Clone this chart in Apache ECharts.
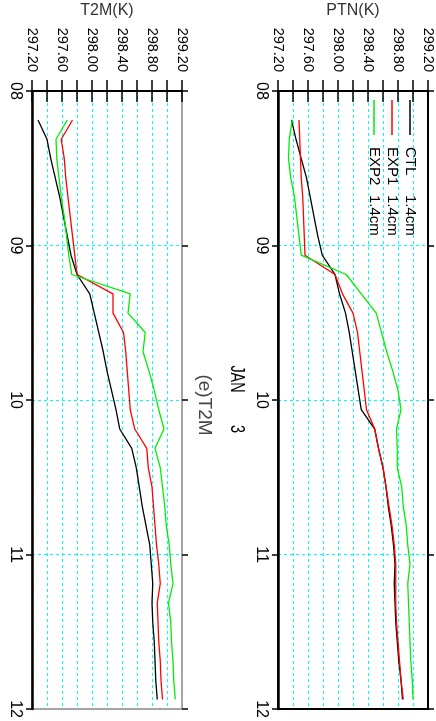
<!DOCTYPE html>
<html><head><meta charset="utf-8">
<script src="https://cdn.jsdelivr.net/npm/echarts@6/dist/echarts.min.js"></script>
<style>html,body{margin:0;padding:0;background:#fff;}#c{width:436px;height:721px;}</style>
</head><body><div id="c"></div>
<script>
// ---- data ----
const hours = [4.5, 7.5, 10.5, 13.5, 16.5, 19.5, 22.5, 25.5, 28.5, 31.5, 34.5, 37.5, 40.5, 43.5, 46.5, 49.5, 52.5, 55.5, 58.5, 61.5, 64.5, 67.5, 70.5, 73.5, 76.5, 79.5, 82.5, 85.5, 88.5, 91.5, 94.5];
const timeLabels = ['08', '09', '10', '11', '12'];
const valueTicks = ['297.20', '297.60', '298.00', '298.40', '298.80', '299.20'];
const seriesNames = ['CTL', 'EXP1', 'EXP2'];
const legendSizes = ['1.4cm', '1.4cm', '1.4cm'];
const panelTitles = ['T2M(K)', 'PTN(K)'];
const t2mCTL = [297.28, 297.40, 297.45, 297.51, 297.57, 297.62, 297.67, 297.72, 297.80, 297.97, 298.03, 298.09, 298.15, 298.20, 298.26, 298.32, 298.37, 298.53, 298.59, 298.63, 298.67, 298.72, 298.77, 298.79, 298.81, 298.80, 298.81, 298.83, 298.84, 298.85, 298.87];
const t2mEXP1 = [297.74, 297.59, 297.63, 297.65, 297.68, 297.71, 297.74, 297.77, 297.80, 298.28, 298.28, 298.42, 298.45, 298.47, 298.49, 298.51, 298.57, 298.73, 298.75, 298.80, 298.82, 298.84, 298.86, 298.89, 298.91, 298.87, 298.88, 298.89, 298.91, 298.92, 298.94];
const t2mEXP2 = [297.67, 297.52, 297.53, 297.56, 297.59, 297.63, 297.66, 297.69, 297.73, 298.51, 298.48, 298.71, 298.68, 298.76, 298.83, 298.89, 298.96, 298.84, 298.91, 298.94, 298.97, 298.99, 299.03, 299.05, 299.08, 299.02, 299.05, 299.06, 299.08, 299.09, 299.11];
const ptnCTL = [297.38, 297.44, 297.51, 297.58, 297.63, 297.68, 297.73, 297.79, 297.96, 298.02, 298.10, 298.15, 298.19, 298.23, 298.27, 298.31, 298.49, 298.54, 298.60, 298.64, 298.67, 298.71, 298.74, 298.76, 298.75, 298.76, 298.77, 298.79, 298.81, 298.84, 298.86];
const ptnEXP1 = [297.48, 297.49, 297.50, 297.51, 297.53, 297.54, 297.55, 297.56, 297.96, 298.06, 298.20, 298.26, 298.29, 298.32, 298.35, 298.38, 298.49, 298.54, 298.60, 298.64, 298.68, 298.72, 298.75, 298.77, 298.77, 298.77, 298.78, 298.80, 298.82, 298.84, 298.87];
const ptnEXP2 = [297.39, 297.35, 297.34, 297.37, 297.42, 297.45, 297.48, 297.51, 298.11, 298.31, 298.51, 298.58, 298.65, 298.73, 298.80, 298.84, 298.78, 298.79, 298.79, 298.85, 298.87, 298.91, 298.93, 298.96, 298.93, 298.94, 298.95, 298.96, 298.97, 298.99, 299.00];

// ---- styles ----
const colors = ['#000000', '#ff0000', '#00ee00'];
const FONT = 'Liberation Sans, Arial, sans-serif';
const VMIN = 297.2, VMAX = 299.2;
const grids = [
  {left: 32, top: 91, width: 150, height: 621, show: true, borderColor: '#888', borderWidth: 1.5, backgroundColor: 'transparent'},
  {left: 278, top: 91, width: 150, height: 621, show: true, borderColor: '#000', borderWidth: 2, backgroundColor: 'transparent'}
];
const dash = {color: '#00ffff', width: 1, type: [3, 3]};

const xAxes = [], yAxes = [];
[0, 1].forEach(g => {
  xAxes.push({
    type: 'value', gridIndex: g, position: 'top', min: VMIN, max: VMAX, interval: 0.2,
    axisLine: {show: true, lineStyle: {color: '#000', width: 2}},
    axisTick: {show: true, inside: false, length: 11, lineStyle: {color: '#000', width: 1.5}},
    axisLabel: {
      show: true, rotate: -90, margin: 19, color: '#000', fontSize: 14.5, fontFamily: FONT,
      formatter: v => {
        const i = Math.round((v - VMIN) / 0.2);
        return i % 2 === 0 ? valueTicks[i / 2] : '';
      }
    },
    splitLine: {show: true, showMinLine: false, showMaxLine: false, lineStyle: dash}
  });
  xAxes.push({
    type: 'value', gridIndex: g, position: 'bottom', min: VMIN, max: VMAX, interval: 0.2,
    axisLine: {show: true, lineStyle: {color: '#000', width: 2}},
    axisTick: {show: true, inside: false, length: 11, lineStyle: {color: '#000', width: 1.5}},
    axisLabel: {show: false}, splitLine: {show: false}
  });
  yAxes.push({
    type: 'value', gridIndex: g, position: 'left', inverse: true, min: 0, max: 96, interval: 24,
    axisLine: {show: true, lineStyle: {color: '#000', width: 2.5}},
    axisTick: {show: true, inside: false, length: 6, lineStyle: {color: '#000', width: 1.5}},
    axisLabel: {
      show: true, rotate: -90, margin: 9, color: '#000', fontSize: 16, fontFamily: FONT,
      formatter: v => timeLabels[Math.round(v / 24)]
    },
    splitLine: {show: true, showMinLine: false, showMaxLine: false, lineStyle: dash}
  });
  yAxes.push({
    type: 'value', gridIndex: g, position: 'right', inverse: true, min: 0, max: 96, interval: 24,
    axisLine: {show: false},
    axisTick: {show: true, inside: false, length: 6, lineStyle: {color: '#000', width: 1.5}},
    axisLabel: {show: false}, splitLine: {show: false}
  });
});

const panels = [[t2mCTL, t2mEXP1, t2mEXP2], [ptnCTL, ptnEXP1, ptnEXP2]];
const series = [];
panels.forEach((arrs, g) => {
  arrs.forEach((arr, s) => {
    series.push({
      type: 'line', name: seriesNames[s], xAxisIndex: g * 2, yAxisIndex: g * 2,
      data: arr.map((v, i) => [v, hours[i]]),
      showSymbol: false, symbol: 'none', animation: false, z: 3,
      lineStyle: {color: colors[s], width: 1.3}
    });
  });
});

const graphic = [];
const titleX = [107, 353];
panelTitles.forEach((t, i) => graphic.push({
  type: 'text', x: titleX[i], y: 11,
  style: {text: t, fill: '#333', font: '16px ' + FONT, textAlign: 'center', textVerticalAlign: 'middle'}
}));
graphic.push({type: 'text', x: 237, y: 379, rotation: -Math.PI / 2, scaleX: 0.72,
  style: {text: 'JAN', fill: '#000', font: '20px ' + FONT, textAlign: 'center', textVerticalAlign: 'middle'}});
graphic.push({type: 'text', x: 237, y: 429, rotation: -Math.PI / 2, scaleX: 0.72,
  style: {text: '3', fill: '#000', font: '20px ' + FONT, textAlign: 'center', textVerticalAlign: 'middle'}});
graphic.push({type: 'text', x: 204, y: 405, rotation: -Math.PI / 2,
  style: {text: '(e)T2M', fill: '#444', font: '19px ' + FONT, textAlign: 'center', textVerticalAlign: 'middle'}});
const legX = [410, 392, 374];
seriesNames.forEach((t, i) => {
  graphic.push({type: 'line', shape: {x1: legX[i], y1: 100, x2: legX[i], y2: 135},
    style: {stroke: colors[i], lineWidth: 1.5}, z: 10});
  graphic.push({type: 'text', x: legX[i], y: 147, rotation: -Math.PI / 2,
    style: {text: t, fill: '#000', font: '15px ' + FONT, textAlign: 'left', textVerticalAlign: 'middle'}, z: 10});
  graphic.push({type: 'text', x: legX[i], y: 195, rotation: -Math.PI / 2,
    style: {text: legendSizes[i], fill: '#000', font: '15px ' + FONT, textAlign: 'left', textVerticalAlign: 'middle'}, z: 10});
});

const chart = echarts.init(document.getElementById('c'), null, {renderer: 'canvas'});
chart.setOption({
  animation: false, backgroundColor: '#fff',
  grid: grids, xAxis: xAxes, yAxis: yAxes, series: series, graphic: graphic
});
</script></body></html>
